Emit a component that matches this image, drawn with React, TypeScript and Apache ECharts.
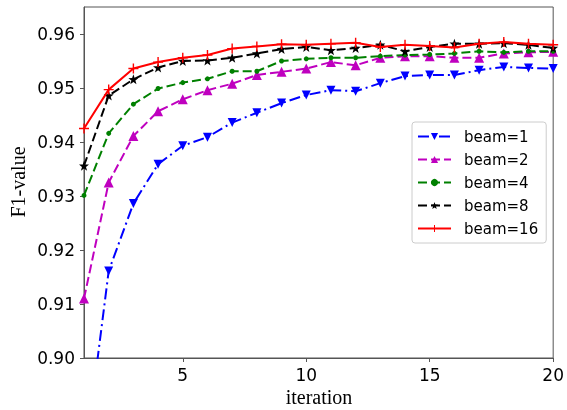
import React, { useEffect, useRef } from "react";
import * as echarts from "echarts";

const iterations = [1, 2, 3, 4, 5, 6, 7, 8, 9, 10, 11, 12, 13, 14, 15, 16, 17, 18, 19, 20];
const beam1 = [0.880, 0.9161, 0.9286, 0.9359, 0.9393, 0.9409, 0.9436, 0.9454, 0.9472, 0.9487, 0.9496, 0.9494, 0.9509, 0.9522, 0.9524, 0.9524, 0.9533, 0.9539, 0.9537, 0.9536];
const beam2 = [0.9110, 0.9325, 0.9411, 0.9457, 0.9479, 0.9496, 0.9508, 0.9524, 0.9530, 0.9536, 0.9548, 0.9542, 0.9556, 0.9559, 0.9559, 0.9556, 0.9556, 0.9564, 0.9566, 0.9567];
const beam4 = [0.9301, 0.9416, 0.9470, 0.9499, 0.9510, 0.9517, 0.9531, 0.9531, 0.9550, 0.9554, 0.9556, 0.9556, 0.9559, 0.9561, 0.9562, 0.9564, 0.9568, 0.9566, 0.9568, 0.9568];
const beam8 = [0.9356, 0.9486, 0.9516, 0.9538, 0.9550, 0.9551, 0.9556, 0.9564, 0.9572, 0.9576, 0.9570, 0.9574, 0.9580, 0.9568, 0.9576, 0.9582, 0.9582, 0.9583, 0.9580, 0.9574];
const beam16 = [0.9425, 0.9497, 0.9536, 0.9548, 0.9556, 0.9561, 0.9573, 0.9577, 0.9581, 0.9580, 0.9582, 0.9584, 0.9576, 0.9580, 0.9578, 0.9575, 0.9582, 0.9585, 0.9582, 0.9580];

const xTicks = [5, 10, 15, 20];
const yTicks = [0.9, 0.91, 0.92, 0.93, 0.94, 0.95, 0.96];
const seriesNames = ["beam=1", "beam=2", "beam=4", "beam=8", "beam=16"];

const STAR =
  "path://M0,-10L2.35,-3.24L9.51,-3.09L3.8,1.24L5.88,8.09L0,4L-5.88,8.09L-3.8,1.24L-9.51,-3.09L-2.35,-3.24Z";
const PLUS = "path://M-0.7,-5H0.7V-0.7H5V0.7H0.7V5H-0.7V0.7H-5V-0.7H-0.7Z";

export default function App() {
  const ref = useRef<HTMLDivElement>(null);
  useEffect(() => {
    if (!ref.current) return;
    const chart = echarts.init(ref.current, null, { renderer: "svg" });
    const pair = (vals: number[]) => iterations.map((x, i) => [x, vals[i]]);
    const styles = [
      { data: beam1, color: "#0000ff", symbol: "triangle", rotate: 180, size: 9, dash: [11, 4, 2, 4] },
      { data: beam2, color: "#bf00bf", symbol: "triangle", rotate: 0, size: 10, dash: [9, 4] },
      { data: beam4, color: "#008000", symbol: "circle", rotate: 0, size: 5, dash: [9, 4] },
      { data: beam8, color: "#000000", symbol: STAR, rotate: 0, size: 10, dash: [9, 4] },
      { data: beam16, color: "#ff0000", symbol: PLUS, rotate: 0, size: 10, dash: "solid" },
    ];
    chart.setOption({
      animation: false,
      grid: {
        left: 84,
        right: 13,
        top: 7,
        bottom: 52,
        show: true,
        borderColor: "#555",
        borderWidth: 1,
        backgroundColor: "transparent",
      },
      legend: {
        orient: "vertical",
        left: 412,
        top: 122,
        itemWidth: 33,
        itemHeight: 9,
        itemGap: 8,
        padding: [7, 8, 7, 5],
        borderColor: "#cccccc",
        borderWidth: 1,
        borderRadius: 3,
        backgroundColor: "rgba(255,255,255,0.8)",
        textStyle: {
          fontFamily: "DejaVu Sans",
          fontSize: 15,
          color: "#000",
          lineHeight: 15,
          padding: [0, 0, 0, 8],
        },
        data: seriesNames,
      },
      xAxis: {
        type: "value",
        min: 1,
        max: 20,
        splitLine: { show: false },
        axisLine: { show: true, lineStyle: { color: "#555", width: 1 } },
        axisTick: { show: true, inside: false, length: 4, customValues: xTicks, lineStyle: { color: "#555" } },
        axisLabel: {
          customValues: xTicks,
          fontFamily: "DejaVu Sans",
          fontSize: 17,
          color: "#000",
          margin: 8,
        },
      },
      yAxis: {
        type: "value",
        min: 0.9,
        max: 0.965,
        splitLine: { show: false },
        axisLine: { show: true, lineStyle: { color: "#555", width: 1 } },
        axisTick: { show: true, inside: false, length: 4, customValues: yTicks, lineStyle: { color: "#555" } },
        axisLabel: {
          customValues: yTicks,
          formatter: (v: number) => v.toFixed(2),
          fontFamily: "DejaVu Sans",
          fontSize: 17,
          color: "#000",
          margin: 9,
        },
      },
      graphic: [
        {
          type: "text",
          x: 18,
          y: 182,
          rotation: Math.PI / 2,
          style: {
            text: "F1-value",
            fontFamily: "Liberation Serif",
            fontSize: 20,
            fill: "#000",
            align: "center",
            verticalAlign: "middle",
          },
        },
        {
          type: "text",
          x: 319,
          y: 397,
          style: {
            text: "iteration",
            fontFamily: "Liberation Serif",
            fontSize: 20,
            fill: "#000",
            align: "center",
            verticalAlign: "middle",
          },
        },
      ],
      series: styles.map((s, i) => ({
        name: seriesNames[i],
        type: "line",
        data: pair(s.data),
        symbol: s.symbol,
        symbolSize: s.size,
        symbolRotate: s.rotate,
        showAllSymbol: true,
        clip: true,
        lineStyle: { color: s.color, width: 2, type: s.dash },
        itemStyle: { color: s.color, borderWidth: 0 },
        z: 2 + i,
      })),
    });
    return () => chart.dispose();
  }, []);
  return <div ref={ref} style={{ position: "fixed", left: 0, top: 0, width: 567, height: 410 }} />;
}
